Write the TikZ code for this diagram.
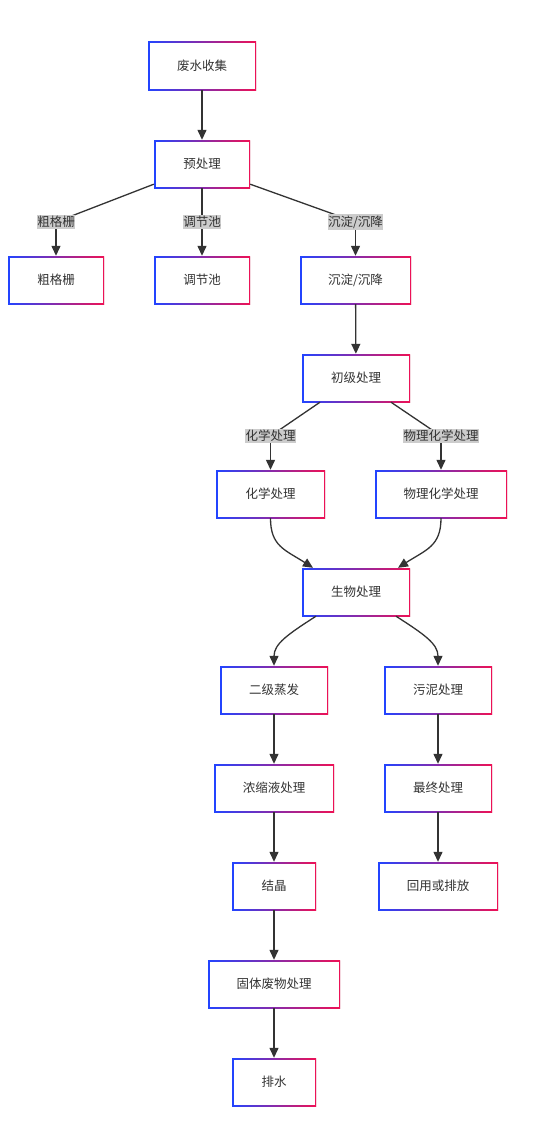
\documentclass[tikz,border=0pt]{standalone}
\usepackage{fontspec}
\setmainfont{Noto Sans CJK SC}
\usetikzlibrary{arrows.meta,shadows}
\definecolor{bl}{HTML}{2244FF}
\definecolor{rd}{HTML}{EE1155}
\definecolor{txt}{HTML}{333333}
\definecolor{lbg}{HTML}{CCCCCC}
\tikzset{
  box/.style={minimum width=#1, minimum height=48, inner sep=0pt,
    font=\fontsize{12.5}{15}\selectfont, text=txt,
    drop shadow={opacity=0.08, shadow xshift=1pt, shadow yshift=-1pt},
    fill=white,
    path picture={
      \shade[left color=bl, right color=rd]
        (path picture bounding box.south west) rectangle (path picture bounding box.north east);
      \fill[white] ([xshift=1.5pt,yshift=1.5pt]path picture bounding box.south west)
        rectangle ([xshift=-1.5pt,yshift=-1.5pt]path picture bounding box.north east);
    }},
  lbl/.style={fill=lbg, text=txt, inner xsep=0.5pt, inner ysep=1.5pt,
    font=\fontsize{12.5}{15}\selectfont},
  edge/.style={draw=txt, line width=1.3pt, -{Triangle[length=10pt,width=9pt]}},
  plain/.style={draw=txt, line width=1.3pt},
}
\begin{document}
\begin{tikzpicture}[x=1pt,y=-1pt]
\useasboundingbox[fill=white] (0,0) rectangle (536,1124);
% nodes
\node[box=108] (a) at (202,66) {废水收集};
\node[box=96] (pre) at (202,164) {预处理};
\node[box=96] (c1) at (56,280) {粗格栅};
\node[box=96] (c2) at (202,280) {调节池};
\node[box=111] (c3) at (355.5,280) {沉淀/沉降};
\node[box=108] (prim) at (356,378) {初级处理};
\node[box=109] (chem) at (270.5,494) {化学处理};
\node[box=132] (phys) at (441,494) {物理化学处理};
\node[box=108] (bio) at (356,592) {生物处理};
\node[box=108] (evap) at (274,690) {二级蒸发};
\node[box=108] (sludge) at (438,690) {污泥处理};
\node[box=120] (conc) at (274,788) {浓缩液处理};
\node[box=108] (final) at (438,788) {最终处理};
\node[box=84] (cryst) at (274,886) {结晶};
\node[box=120] (reuse) at (438,886) {回用或排放};
\node[box=132] (solid) at (274,984) {固体废物处理};
\node[box=84] (drain) at (274,1082) {排水};
% label anchors
\coordinate (l1c) at (56,222);
\coordinate (l3c) at (355.5,222);
\coordinate (l4c) at (270.5,436);
\coordinate (l5c) at (441,436);
% edges
\draw[edge] (a) -- (pre);
\draw[plain] ([yshift=4pt]pre.south west) -- (l1c);
\draw[edge] (l1c) -- (c1);
\draw[edge] (pre) -- (c2);
\draw[plain] ([yshift=4pt]pre.south east) -- (l3c);
\draw[edge] (l3c) -- (c3);
\draw[edge] (c3) -- (prim);
\draw[plain] ([xshift=-36pt]prim.south) -- (l4c);
\draw[edge] (l4c) -- (chem);
\draw[plain] ([xshift=35pt]prim.south) -- (l5c);
\draw[edge] (l5c) -- (phys);
\draw[edge] (chem.south) .. controls +(0,28) and +(-28,-18) .. ([xshift=-43pt]bio.north);
\draw[edge] (phys.south) .. controls +(0,28) and +(28,-18) .. ([xshift=42pt]bio.north);
\draw[edge] ([xshift=-40pt]bio.south) .. controls +(-28,18) and +(0,-22) .. (evap.north);
\draw[edge] ([xshift=40pt]bio.south) .. controls +(28,18) and +(0,-22) .. (sludge.north);
\draw[edge] (evap) -- (conc);
\draw[edge] (conc) -- (cryst);
\draw[edge] (cryst) -- (solid);
\draw[edge] (solid) -- (drain);
\draw[edge] (sludge) -- (final);
\draw[edge] (final) -- (reuse);
% labels
\node[lbl] (l1) at (l1c) {粗格栅};
\node[lbl] (l2) at (202,222) {调节池};
\node[lbl] (l3) at (l3c) {沉淀/沉降};
\node[lbl] (l4) at (l4c) {化学处理};
\node[lbl] (l5) at (l5c) {物理化学处理};
\end{tikzpicture}
\end{document}
